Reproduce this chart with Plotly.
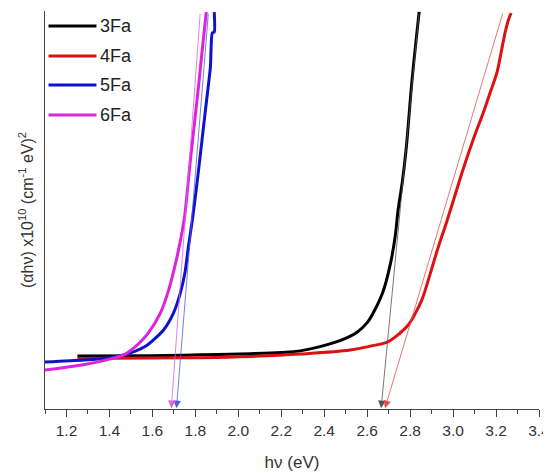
import plotly.graph_objects as go

# Data (y in arbitrary units, 0 = bottom axis, 10 = top)
x_3fa = [1.251, 1.591, 1.823, 2.056, 2.200, 2.288, 2.442, 2.510, 2.553, 2.600, 2.628, 2.674, 2.707, 2.730, 2.744, 2.763, 2.781, 2.809, 2.842]
y_3fa = [1.33, 1.34, 1.36, 1.39, 1.42, 1.46, 1.66, 1.80, 1.93, 2.17, 2.41, 2.95, 3.62, 4.32, 5.00, 5.68, 6.51, 8.27, 9.98]

x_4fa = [1.251, 1.591, 1.823, 2.056, 2.288, 2.521, 2.614, 2.693, 2.753, 2.791, 2.823, 2.856, 2.893, 2.930, 2.967, 3.005,
         3.047, 3.093, 3.140, 3.172, 3.205, 3.223, 3.242, 3.256, 3.270]
y_4fa = [1.27, 1.28, 1.29, 1.32, 1.38, 1.48, 1.58, 1.68, 1.91, 2.11, 2.39, 2.76, 3.39, 4.05, 4.65, 5.30,
         6.03, 6.76, 7.44, 7.94, 8.47, 8.94, 9.45, 9.75, 9.95]

x_5fa = [1.10, 1.279, 1.405, 1.498, 1.577, 1.651, 1.698, 1.730, 1.753, 1.767, 1.786, 1.805, 1.823, 1.847, 1.870, 1.879, 1.888, 1.888]
y_5fa = [1.18, 1.23, 1.29, 1.41, 1.61, 1.98, 2.41, 2.91, 3.47, 4.05, 4.75, 5.55, 6.38, 7.51, 8.59, 9.45, 9.47, 9.97]

x_6fa = [1.10, 1.279, 1.405, 1.474, 1.530, 1.577, 1.637, 1.674, 1.707, 1.730, 1.749, 1.763, 1.777, 1.795, 1.814, 1.833, 1.851]
y_6fa = [0.98, 1.11, 1.26, 1.38, 1.61, 1.88, 2.41, 2.96, 3.64, 4.22, 4.80, 5.50, 6.26, 7.14, 8.07, 9.07, 9.97]

names = ["3Fa", "4Fa", "5Fa", "6Fa"]
colors = ["#000000", "#dd1111", "#1111cc", "#dd22dd"]
arrow_colors = ["#555555", "#e05050", "#5060d0", "#e060e0"]
smooth = [1.0, 1.0, 0.6, 1.0]

# Tauc extrapolation lines: (tail x, tail y) -> band gap on the energy axis
tail_x = [2.842, 3.233, 1.861, 1.823]
tail_y = [9.97, 9.97, 9.97, 9.97]
gap_x = [2.665, 2.683, 1.712, 1.688]

tick_vals = [1.2, 1.4, 1.6, 1.8, 2.0, 2.2, 2.4, 2.6, 2.8, 3.0, 3.2, 3.4]
tick_text = ["1.2", "1.4", "1.6", "1.8", "2.0", "2.2", "2.4", "2.6", "2.8", "3.0", "3.2", "3.4"]

fig = go.Figure()
for xs, ys, n, c, s in zip([x_3fa, x_4fa, x_5fa, x_6fa], [y_3fa, y_4fa, y_5fa, y_6fa], names, colors, smooth):
    fig.add_trace(go.Scatter(x=xs, y=ys, mode="lines", name=n,
                             line=dict(color=c, width=3, shape="spline", smoothing=s),
                             showlegend=False))

for tx, ty, gx, ac in zip(tail_x, tail_y, gap_x, arrow_colors):
    fig.add_annotation(x=gx, y=0.02, ax=tx, ay=ty, xref="x", yref="y", axref="x", ayref="y",
                       text="", showarrow=True, arrowhead=2, arrowsize=1.9, arrowwidth=0.8,
                       arrowcolor=ac, standoff=0)

# Custom legend (longer line samples as in the reference)
leg_y = [26, 56, 85, 115]  # pixel rows in the reference
plot_top = 11
plot_h = 409 - 11
for n, c, py in zip(names, colors, leg_y):
    yp = 1 - (py - plot_top) / plot_h
    fig.add_shape(type="line", xref="paper", yref="paper",
                  x0=(48 - 44.5) / 494.5, x1=(96 - 44.5) / 494.5, y0=yp, y1=yp,
                  line=dict(color=c, width=3))
    fig.add_annotation(xref="paper", yref="paper", x=(98 - 44.5) / 494.5, y=yp,
                       text=n, showarrow=False, xanchor="left", yanchor="middle",
                       font=dict(family="Liberation Sans, Arial", size=18, color="#222222"))

# The page body adds an 8px margin, so the figure is 8px smaller than the window
fig.update_layout(
    width=543, height=465,
    margin=dict(l=36.5, r=12, t=3, b=64, autoexpand=False),
    paper_bgcolor="white", plot_bgcolor="white",
    font=dict(family="Liberation Sans, Arial", color="#333333"),
    xaxis=dict(range=[1.1, 3.4], tickmode="array", tickvals=tick_vals, ticktext=tick_text,
               automargin=False,
               ticks="outside", ticklen=7, tickwidth=1.2, tickcolor="#444444",
               minor=dict(ticks="outside", ticklen=4, tickwidth=1.2, tickcolor="#444444", dtick=0.1, tick0=1.1),
               showline=True, linecolor="#444444", linewidth=1.3, showgrid=False, zeroline=False,
               tickfont=dict(size=15.5, color="#333333"),
               title=dict(text="hν (eV)", font=dict(size=17, color="#333333"), standoff=18)),
    yaxis=dict(range=[0, 10], showticklabels=False, ticks="", showline=True, linecolor="#444444",
               automargin=False,
               linewidth=1.3, showgrid=False, zeroline=False,
               title=dict(text="(αhν) x10<sup>10</sup> (cm<sup>-1</sup> eV)<sup>2</sup>",
                          font=dict(size=16, color="#333333"), standoff=6)),
)

fig.write_html("out.html")
